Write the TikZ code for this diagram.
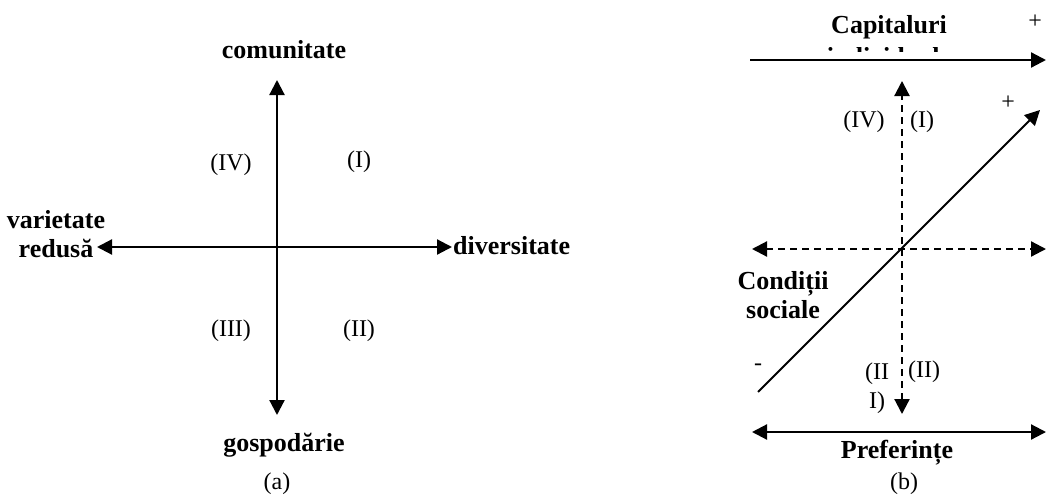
\documentclass[tikz,border=0pt]{standalone}
\usepackage{fontspec}
\setmainfont{Liberation Serif}
\usetikzlibrary{arrows.meta}
\begin{document}
\begin{tikzpicture}[x=1pt,y=1pt,
  ax/.style={line width=2.2pt},
  dax/.style={line width=2.2pt,dash pattern=on 7pt off 5pt},
  tip/.style={-{Triangle[length=15pt,width=15pt]}},
  tips/.style={{Triangle[length=15pt,width=15pt]}-{Triangle[length=15pt,width=15pt]}},
  lab/.style={font=\fontsize{26}{29}\selectfont\bfseries,inner sep=0pt,align=center},
  rom/.style={font=\fontsize{24}{29}\selectfont,inner sep=0pt,align=center}]
\useasboundingbox (0,0) rectangle (1048,-503);
% ---------- (a) ----------
\coordinate (aT) at (277,-80);
\coordinate (aB) at (277,-415);
\coordinate (aL) at (97,-247);
\coordinate (aR) at (452,-247);
\draw[ax,tips] (aB) -- (aT);
\draw[ax,tips] (aL) -- (aR);
\node[lab] (com) at (284,-50) {comunitate};
\node[lab] (gos) at (284,-445) {gospodărie};
\node[lab] (var) at (56,-234) {varietate\\redusă};
\node[lab,anchor=west] (div) at (453,-246) {diversitate};
\node[rom] (a4) at (231,-165) {(IV)};
\node[rom] (a1) at (359,-162) {(I)};
\node[rom] (a3) at (231,-331) {(III)};
\node[rom] (a2) at (359,-331) {(II)};
\node[rom] (acap) at (277,-484) {(a)};
% ---------- (b) ----------
\coordinate (tL) at (750,-60);
\coordinate (tR) at (1046,-60);
\draw[ax,tip] (tL) -- (tR);
\node[lab] (cap) at (889,-27) {Capitaluri};
\begin{scope}
  \clip (820,-48) rectangle (960,-52);
  \node[lab,anchor=base] (ind) at (889,-66) {individuale};
\end{scope}
\node[rom] (p1) at (1035,-22) {+};
\coordinate (vT) at (902,-81);
\coordinate (vB) at (902,-414);
\draw[dax,tips] (vB) -- (vT);
\coordinate (hL) at (752,-249);
\coordinate (hR) at (1046,-249);
\draw[dax,tips] (hL) -- (hR);
\coordinate (dA) at (758,-392);
\coordinate (dB) at (1040,-110);
\draw[line width=1.8pt,tip] (dA) -- (dB);
\node[rom] (p2) at (1008,-103) {+};
\node[rom] (m1) at (758,-367) {-};
\node[rom] (b4) at (864,-122) {(IV)};
\node[rom] (b1) at (922,-122) {(I)};
\node[rom] (b3) at (877,-388) {(II\\I)};
\node[rom] (b2) at (924,-372) {(II)};
\node[lab] (cond) at (783,-295) {Condiții\\sociale};
\coordinate (bL) at (752,-432);
\coordinate (bR) at (1046,-432);
\draw[ax,tips] (bL) -- (bR);
\node[lab] (pref) at (897,-453) {Preferințe};
\node[rom] (bcap) at (904,-484) {(b)};
\end{tikzpicture}
\end{document}
